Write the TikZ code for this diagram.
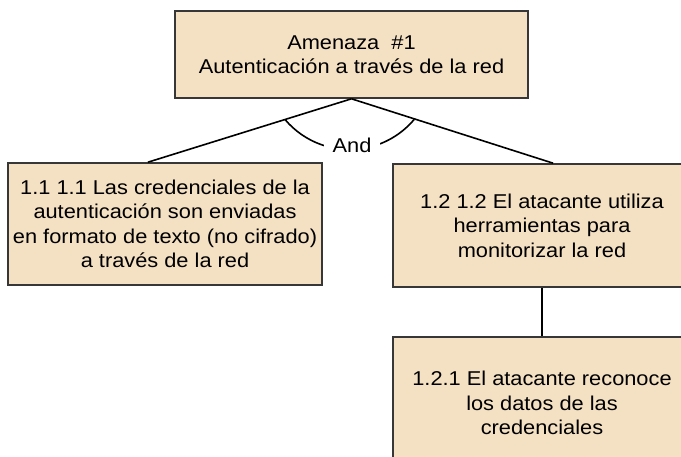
\documentclass[tikz,border=0pt]{standalone}
\usepackage{fontspec}
\setmainfont{Liberation Sans}[FakeStretch=1.09]
\usetikzlibrary{calc}
\definecolor{boxfill}{RGB}{244,224,194}
\definecolor{boxline}{RGB}{55,55,55}
\begin{document}
\begin{tikzpicture}[x=1pt,y=1pt,
  treebox/.style={draw=boxline, line width=1.6pt, fill=boxfill, align=center,
    inner sep=0pt, font=\fontsize{20}{24.5}\selectfont},
  link/.style={draw=black, line width=1.6pt}]
\useasboundingbox (0,0) rectangle (681,-457);
\clip (0,0) rectangle (681,-457);
\fill[white] (0,0) rectangle (681,-457);
\node[treebox, minimum width=353pt, minimum height=87pt] (top) at (351.5,-54.5)
  {Amenaza\ \ \#1\\Autenticación a través de la red};
\node[treebox, minimum width=314pt, minimum height=122pt] (left) at (165,-224)
  {1.1 1.1 Las credenciales de la\\autenticación son enviadas\\en formato de texto (no cifrado)\\a través de la red};
\node[treebox, minimum width=298pt, minimum height=123pt] (right) at (542,-225.5)
  {1.2 1.2 El atacante utiliza\\herramientas para\\monitorizar la red};
\node[treebox, minimum width=298pt, minimum height=132pt] (bottom) at (542,-403)
  {1.2.1 El atacante reconoce\\los datos de las\\credenciales};
\draw[link] (top.south) -- ($(left.north west)!0.446!(left.north east)$);
\draw[link] (top.south) -- ($(right.north west)!0.537!(right.north east)$);
\draw[link] (right.south) -- (bottom.north);
\draw[line width=1.6pt] (285,-119.5) arc[start angle=220.1, end angle=319.9, radius=84.4pt];
\node[fill=white, inner xsep=9pt, inner ysep=1pt, font=\fontsize{20}{24}\selectfont] (and) at (352,-145) {And};
\end{tikzpicture}
\end{document}
